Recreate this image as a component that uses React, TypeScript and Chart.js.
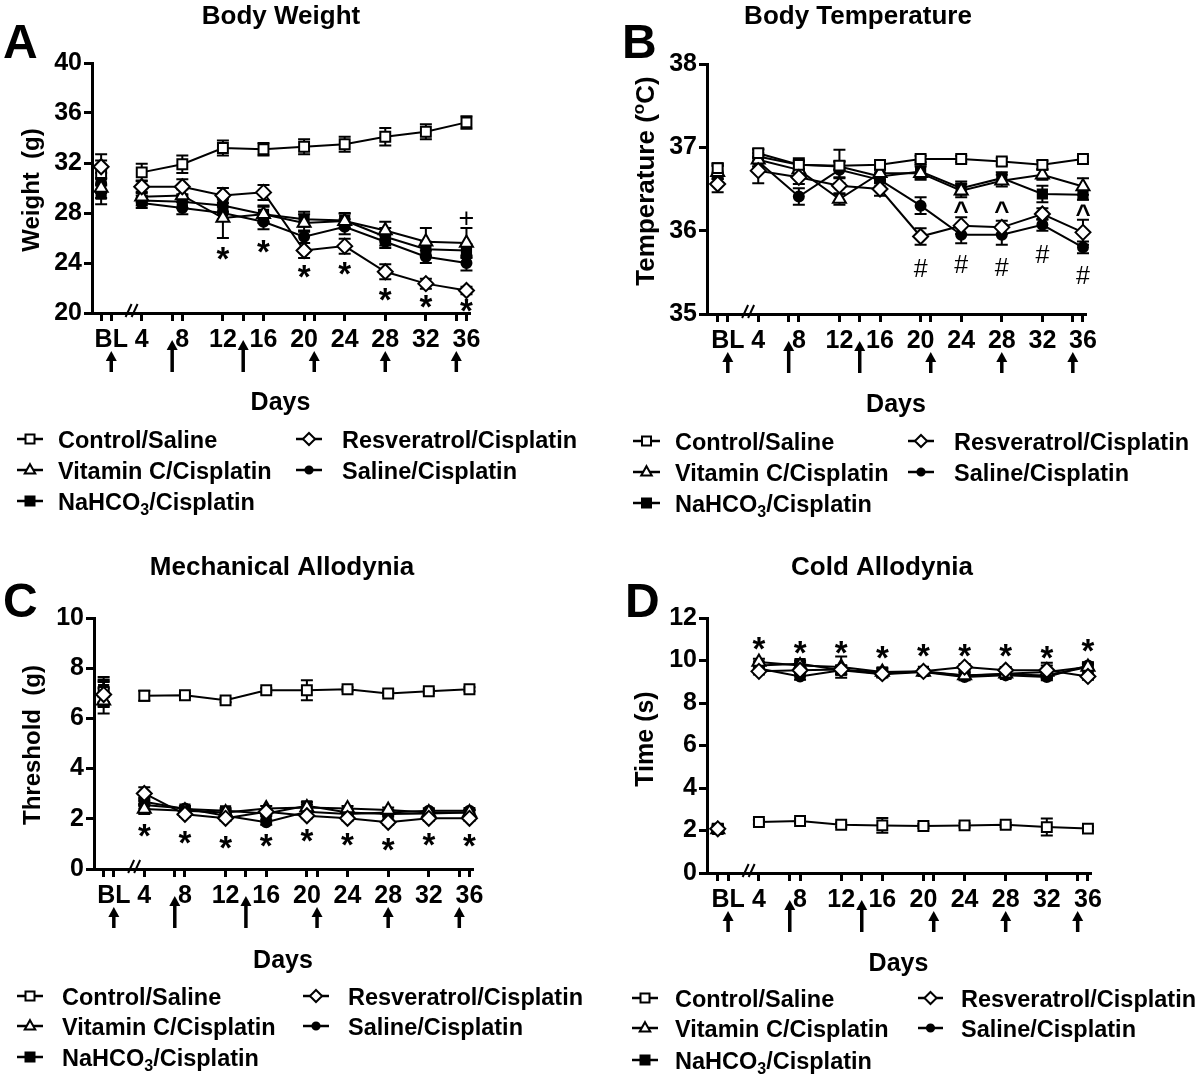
import React, { useEffect, useRef } from 'react';
import { Chart, registerables } from 'chart.js';

Chart.register(...registerables);

const FONT = '"Liberation Sans", Arial, Helvetica, sans-serif';

// ---------- shared x axis ----------
const BL_X = 0;
const DAYS = [4, 8, 12, 16, 20, 24, 28, 32, 36];
const X_VALUES = [BL_X, ...DAYS];
const X_TICKS = [0, 1, 4, 7, 8, 12, 14, 16, 20, 21, 24, 28, 32, 35, 36];
const X_TICK_LABELS = ['', 'BL', '4', '', '8', '12', '', '16', '20', '', '24', '28', '32', '', '36'];
const ARROW_DAYS = [1, 7, 14, 21, 28, 35];
const LONG_ARROW_DAYS = [7, 14];
const BREAK_X = 3;

// ---------- A: Body weight (g) — BL, day 4 ... 36 ----------
const BW_TICKS = [20, 24, 28, 32, 36, 40];
const bwControl = [31.2, 31.25, 31.9, 33.2, 33.1, 33.3, 33.5, 34.1, 34.5, 35.25];
const bwControlErr = [1.0, 0.7, 0.7, 0.6, 0.5, 0.6, 0.6, 0.7, 0.6, 0.5];
const bwVitC = [30.0, 29.3, 29.4, 27.6, 27.9, 27.2, 27.35, 26.6, 25.7, 25.6];
const bwVitCErr = [0.8, 0.4, 0.5, 1.6, 0.7, 0.7, 0.6, 0.7, 1.1, 1.2];
const bwNaHCO3 = [29.5, 29.0, 28.9, 28.6, 27.9, 27.5, 27.4, 26.1, 25.1, 25.0];
const bwNaHCO3Err = [0.8, 0.4, 0.5, 0.5, 0.6, 0.6, 0.6, 0.7, 0.6, 0.5];
const bwResv = [31.7, 30.1, 30.1, 29.4, 29.65, 25.0, 25.35, 23.3, 22.35, 21.8];
const bwResvErr = [1.0, 0.5, 0.6, 0.6, 0.6, 0.6, 0.6, 0.6, 0.4, 0.3];
const bwSaline = [30.4, 28.8, 28.4, 28.0, 27.3, 26.1, 26.9, 25.7, 24.5, 24.0];
const bwSalineErr = [0.8, 0.4, 0.5, 0.5, 0.6, 0.5, 0.6, 0.5, 0.5, 0.6];
const BW_STAR_DAYS = [12, 16, 20, 24, 28, 32, 36];
const BW_STAR_Y = [24.8, 25.3, 23.3, 23.55, 21.5, 20.9, 20.6];
const BW_PLUS_DAYS = [36];
const BW_PLUS_Y = [27.6];

// ---------- B: Body temperature (°C) ----------
const BT_TICKS = [35, 36, 37, 38];
const btControl = [36.75, 36.93, 36.79, 36.78, 36.79, 36.86, 36.86, 36.83, 36.79, 36.86];
const btControlErr = [0.06, 0.05, 0.05, 0.05, 0.05, 0.04, 0.04, 0.04, 0.05, 0.04];
const btVitC = [36.7, 36.85, 36.73, 36.38, 36.69, 36.69, 36.48, 36.6, 36.67, 36.53];
const btVitCErr = [0.08, 0.08, 0.1, 0.07, 0.08, 0.08, 0.08, 0.07, 0.06, 0.1];
const btNaHCO3 = [36.72, 36.89, 36.79, 36.77, 36.65, 36.71, 36.51, 36.63, 36.44, 36.43];
const btNaHCO3Err = [0.08, 0.08, 0.08, 0.2, 0.08, 0.08, 0.08, 0.07, 0.1, 0.06];
const btResv = [36.56, 36.72, 36.64, 36.54, 36.5, 35.93, 36.06, 36.04, 36.2, 35.98];
const btResvErr = [0.1, 0.15, 0.08, 0.1, 0.08, 0.1, 0.1, 0.08, 0.07, 0.15];
const btSaline = [36.7, 36.83, 36.41, 36.73, 36.61, 36.3, 35.95, 35.95, 36.07, 35.8];
const btSalineErr = [0.08, 0.06, 0.1, 0.1, 0.08, 0.1, 0.1, 0.12, 0.07, 0.07];
const BT_HASH_DAYS = [20, 24, 28, 32, 36];
const BT_HASH_Y = [35.55, 35.6, 35.57, 35.72, 35.47];
const BT_CARET_DAYS = [24, 28, 36];
const BT_CARET_Y = [36.29, 36.29, 36.25];

// ---------- C: Mechanical allodynia threshold (g) ----------
const MA_TICKS = [0, 2, 4, 6, 8, 10];
const maControl = [7.05, 6.9, 6.92, 6.72, 7.12, 7.12, 7.16, 6.99, 7.08, 7.16];
const maControlErr = [0.5, 0.2, 0.08, 0.08, 0.08, 0.4, 0.08, 0.08, 0.08, 0.08];
const maVitC = [6.7, 2.39, 2.32, 2.25, 2.41, 2.45, 2.41, 2.35, 2.25, 2.25];
const maVitCErr = [0.5, 0.2, 0.1, 0.1, 0.1, 0.12, 0.1, 0.1, 0.1, 0.1];
const maNaHCO3 = [7.15, 2.68, 2.39, 2.32, 2.21, 2.52, 2.25, 2.19, 2.21, 2.25];
const maNaHCO3Err = [0.5, 0.15, 0.1, 0.1, 0.1, 0.15, 0.1, 0.1, 0.1, 0.1];
const maResv = [6.95, 3.01, 2.18, 2.02, 2.28, 2.12, 2.02, 1.86, 2.02, 2.02];
const maResvErr = [0.5, 0.25, 0.1, 0.1, 0.1, 0.1, 0.1, 0.1, 0.1, 0.1];
const maSaline = [7.0, 2.55, 2.41, 2.12, 1.86, 2.28, 2.19, 2.25, 2.32, 2.32];
const maSalineErr = [0.5, 0.15, 0.1, 0.1, 0.1, 0.1, 0.1, 0.1, 0.1, 0.1];
const MA_STAR_DAYS = [4, 8, 12, 16, 20, 24, 28, 32, 36];
const MA_STAR_Y = [1.53, 1.26, 1.06, 1.13, 1.35, 1.19, 0.99, 1.19, 1.13];

// ---------- D: Cold allodynia time (s) ----------
const CA_TICKS = [0, 2, 4, 6, 8, 10, 12];
const caControl = [2.09, 2.4, 2.45, 2.27, 2.24, 2.21, 2.24, 2.27, 2.16, 2.09];
const caControlErr = [0.2, 0.1, 0.1, 0.1, 0.35, 0.1, 0.1, 0.1, 0.4, 0.1];
const caVitC = [2.05, 9.93, 9.77, 9.69, 9.46, 9.46, 9.3, 9.38, 9.46, 9.69];
const caVitCErr = [0.15, 0.15, 0.15, 0.5, 0.2, 0.1, 0.15, 0.15, 0.3, 0.15];
const caNaHCO3 = [2.05, 9.77, 9.85, 9.54, 9.46, 9.49, 9.3, 9.35, 9.3, 9.69];
const caNaHCO3Err = [0.15, 0.15, 0.15, 0.2, 0.15, 0.1, 0.15, 0.15, 0.15, 0.15];
const caResv = [2.08, 9.49, 9.54, 9.58, 9.38, 9.49, 9.69, 9.54, 9.54, 9.25];
const caResvErr = [0.15, 0.15, 0.15, 0.2, 0.15, 0.1, 0.15, 0.15, 0.35, 0.15];
const caSaline = [2.1, 9.62, 9.25, 9.54, 9.35, 9.46, 9.22, 9.3, 9.22, 9.77];
const caSalineErr = [0.15, 0.15, 0.15, 0.2, 0.15, 0.1, 0.15, 0.15, 0.15, 0.15];
const CA_STAR_DAYS = [4, 8, 12, 16, 20, 24, 28, 32, 36];
const CA_STAR_Y = [10.79, 10.6, 10.6, 10.37, 10.48, 10.48, 10.48, 10.4, 10.71];

// ---------- styling ----------
type Seg = { t: string; sub?: boolean; sup?: boolean };
type Key = 'control' | 'vitc' | 'nahco3' | 'resv' | 'saline';
const GROUP_LABELS: Record<Key, Seg[]> = {
  control: [{ t: 'Control/Saline' }],
  vitc: [{ t: 'Vitamin C/Cisplatin' }],
  nahco3: [{ t: 'NaHCO' }, { t: '3', sub: true }, { t: '/Cisplatin' }],
  resv: [{ t: 'Resveratrol/Cisplatin' }],
  saline: [{ t: 'Saline/Cisplatin' }],
};
const MARK: Record<Key, { style: string; fill: string; r: number }> = {
  control: { style: 'rect', fill: '#ffffff', r: 7 },
  vitc: { style: 'triangle', fill: '#ffffff', r: 7.5 },
  nahco3: { style: 'rect', fill: '#000000', r: 6.5 },
  resv: { style: 'rectRot', fill: '#ffffff', r: 7.5 },
  saline: { style: 'circle', fill: '#000000', r: 5 },
};
const DRAW_ORDER: Key[] = ['resv', 'control', 'vitc', 'nahco3', 'saline'];
const LEGEND_ROWS: Key[][] = [['control', 'resv'], ['vitc', 'saline'], ['nahco3']];

type Annot = { text: string; font: string; days: number[]; ys: number[] };
type PanelCfg = {
  left: number; top: number; letter: string; letterX: number; letterY: number;
  title: string; titleX: number; titleY: number;
  yTitle: Seg[]; yTitleX: number; yTitleY: number; yTitleSize: number;
  area: { l: number; t: number; r: number; b: number };
  xMin: number; xMax: number; yMin: number; yMax: number; yTicks: number[];
  series: Record<Key, { v: number[]; e: number[] }>;
  annots: Annot[];
  daysY: number;
  legendRows: number[]; legendCols: { s0: number; s1: number; tx: number }[];
};

const font = (size: number, weight = 'bold') => `${weight} ${size}px ${FONT}`;

function drawRich(ctx: CanvasRenderingContext2D, segs: Seg[], x: number, y: number, size: number, align: 'left' | 'center') {
  const small = Math.round(size * 0.66);
  const widths = segs.map((s) => {
    ctx.font = font(s.sub || s.sup ? small : size);
    return ctx.measureText(s.t).width;
  });
  const total = widths.reduce((a, b) => a + b, 0);
  let cx = align === 'center' ? x - total / 2 : x;
  ctx.textAlign = 'left';
  ctx.textBaseline = 'alphabetic';
  segs.forEach((s, i) => {
    ctx.font = font(s.sub || s.sup ? small : size);
    const dy = s.sub ? size * 0.25 : s.sup ? -size * 0.38 : 0;
    ctx.fillText(s.t, cx, y + dy);
    cx += widths[i];
  });
}

function drawCenteredGlyph(ctx: CanvasRenderingContext2D, txt: string, x: number, y: number, f: string) {
  ctx.font = f;
  const m = ctx.measureText(txt);
  ctx.textAlign = 'center';
  ctx.textBaseline = 'alphabetic';
  ctx.fillText(txt, x, y + (m.actualBoundingBoxAscent - m.actualBoundingBoxDescent) / 2);
}

function drawMarker(ctx: CanvasRenderingContext2D, key: Key, x: number, y: number, s: number) {
  const m = MARK[key];
  ctx.beginPath();
  if (m.style === 'rect') {
    ctx.rect(x - s, y - s, 2 * s, 2 * s);
  } else if (m.style === 'rectRot') {
    const d = s * 1.35;
    ctx.moveTo(x, y - d); ctx.lineTo(x + d, y); ctx.lineTo(x, y + d); ctx.lineTo(x - d, y); ctx.closePath();
  } else if (m.style === 'triangle') {
    const d = s * 1.3;
    ctx.moveTo(x, y - d); ctx.lineTo(x + d * 0.9, y + d * 0.6); ctx.lineTo(x - d * 0.9, y + d * 0.6); ctx.closePath();
  } else {
    ctx.arc(x, y, s * 0.8, 0, Math.PI * 2);
  }
  ctx.fillStyle = m.fill;
  ctx.fill();
  ctx.lineWidth = 2;
  ctx.strokeStyle = '#000';
  ctx.stroke();
}

function makePlugin(p: PanelCfg) {
  return {
    id: 'decor' + p.letter,
    beforeDatasetsDraw(chart: any) {
      const ctx: CanvasRenderingContext2D = chart.ctx;
      const xs = chart.scales.x;
      const ys = chart.scales.y;
      ctx.save();
      ctx.strokeStyle = '#000';
      ctx.lineWidth = 2;
      DRAW_ORDER.forEach((k) => {
        const s = p.series[k];
        X_VALUES.forEach((xv, i) => {
          const px = xs.getPixelForValue(xv);
          const t = ys.getPixelForValue(s.v[i] + s.e[i]);
          const b = ys.getPixelForValue(s.v[i] - s.e[i]);
          ctx.beginPath();
          ctx.moveTo(px, t); ctx.lineTo(px, b);
          ctx.moveTo(px - 6, t); ctx.lineTo(px + 6, t);
          ctx.moveTo(px - 6, b); ctx.lineTo(px + 6, b);
          ctx.stroke();
        });
      });
      ctx.restore();
    },
    afterDraw(chart: any) {
      const ctx: CanvasRenderingContext2D = chart.ctx;
      const xs = chart.scales.x;
      const ys = chart.scales.y;
      const ca = chart.chartArea;
      const cx = (ca.left + ca.right) / 2;
      ctx.save();
      ctx.fillStyle = '#000';
      ctx.strokeStyle = '#000';
      // panel letter
      ctx.font = font(48);
      ctx.textAlign = 'left';
      ctx.textBaseline = 'alphabetic';
      ctx.fillText(p.letter, p.letterX, p.letterY);
      // title
      ctx.font = font(26);
      ctx.textAlign = 'center';
      ctx.fillText(p.title, p.titleX, p.titleY);
      // y title
      ctx.save();
      ctx.translate(p.yTitleX, p.yTitleY);
      ctx.rotate(-Math.PI / 2);
      drawRich(ctx, p.yTitle, 0, p.yTitleSize * 0.36, p.yTitleSize, 'center');
      ctx.restore();
      // x title
      ctx.font = font(25);
      ctx.textAlign = 'center';
      ctx.fillText('Days', cx, p.daysY);
      // axis break
      const bx = xs.getPixelForValue(BREAK_X);
      const ay = ca.bottom;
      ctx.lineWidth = 2;
      [-3, 3].forEach((d) => {
        ctx.beginPath();
        ctx.moveTo(bx + d - 3, ay + 4);
        ctx.lineTo(bx + d + 3, ay - 9);
        ctx.stroke();
      });
      // arrows (treatment days)
      ARROW_DAYS.forEach((d) => {
        const px = xs.getPixelForValue(d);
        const top = ay + (LONG_ARROW_DAYS.includes(d) ? 27 : 38);
        const bot = ay + 59;
        ctx.lineWidth = 3.5;
        ctx.beginPath();
        ctx.moveTo(px, top + 8);
        ctx.lineTo(px, bot);
        ctx.stroke();
        ctx.beginPath();
        ctx.moveTo(px, top);
        ctx.lineTo(px + 5.5, top + 10);
        ctx.lineTo(px - 5.5, top + 10);
        ctx.closePath();
        ctx.fill();
      });
      // significance marks
      p.annots.forEach((a) => {
        a.days.forEach((d, i) => {
          drawCenteredGlyph(ctx, a.text, xs.getPixelForValue(d), ys.getPixelForValue(a.ys[i]), a.font);
        });
      });
      // legend
      LEGEND_ROWS.forEach((row, ri) => {
        row.forEach((k, ci) => {
          const col = p.legendCols[ci];
          const y = p.legendRows[ri];
          ctx.lineWidth = 2.5;
          ctx.beginPath();
          ctx.moveTo(col.s0, y);
          ctx.lineTo(col.s1, y);
          ctx.stroke();
          drawMarker(ctx, k, (col.s0 + col.s1) / 2, y, 4.5);
          ctx.fillStyle = '#000';
          drawRich(ctx, GROUP_LABELS[k], col.tx, y + 8.5, 23.5, 'left');
        });
      });
      ctx.restore();
    },
  };
}

function buildConfig(p: PanelCfg): any {
  const YW = 62;
  const XH = 40;
  const datasets = DRAW_ORDER.map((k) => ({
    label: k,
    data: X_VALUES.map((x, i) => ({ x, y: p.series[k].v[i] })),
    borderColor: '#000',
    borderWidth: 2,
    pointStyle: MARK[k].style,
    pointRadius: MARK[k].r,
    pointBackgroundColor: MARK[k].fill,
    pointBorderColor: '#000',
    pointBorderWidth: 2,
    tension: 0,
    fill: false,
    clip: false,
    segment: {
      borderColor: (c: any) => (c.p0DataIndex === 0 ? 'rgba(0,0,0,0)' : '#000'),
    },
  }));
  const tickFont = { family: FONT, size: 25, weight: 'bold' as const };
  const gridCfg = { display: true, drawOnChartArea: false, drawTicks: true, tickLength: 8, color: '#000', lineWidth: 3 };
  const borderCfg = { display: true, color: '#000', width: 3 };
  return {
    type: 'line',
    data: { datasets },
    options: {
      responsive: false,
      animation: false,
      devicePixelRatio: 1,
      events: [],
      layout: {
        padding: {
          left: p.area.l - YW,
          top: p.area.t,
          right: 600 - p.area.r,
          bottom: 539 - p.area.b - XH,
        },
      },
      plugins: { legend: { display: false }, tooltip: { enabled: false }, title: { display: false } },
      scales: {
        x: {
          type: 'linear',
          min: p.xMin,
          max: p.xMax,
          afterBuildTicks: (s: any) => { s.ticks = X_TICKS.map((v) => ({ value: v })); },
          afterFit: (s: any) => { s.height = XH; },
          ticks: {
            autoSkip: false, maxRotation: 0, minRotation: 0, padding: 4, color: '#000', font: tickFont,
            callback: (v: any) => { const i = X_TICKS.indexOf(Number(v)); return i >= 0 ? X_TICK_LABELS[i] : ''; },
          },
          grid: gridCfg,
          border: borderCfg,
        },
        y: {
          type: 'linear',
          min: p.yMin,
          max: p.yMax,
          afterBuildTicks: (s: any) => { s.ticks = p.yTicks.map((v) => ({ value: v })); },
          afterFit: (s: any) => { s.width = YW; },
          ticks: { padding: 2, color: '#000', font: tickFont, callback: (v: any) => String(v) },
          grid: gridCfg,
          border: borderCfg,
        },
      },
    },
    plugins: [makePlugin(p)],
  };
}

const PANELS: PanelCfg[] = [
  {
    left: 0, top: 0, letter: 'A', letterX: 3, letterY: 58, title: 'Body Weight', titleX: 281, titleY: 24,
    yTitle: [{ t: 'Weight  (g)' }], yTitleX: 30, yTitleY: 190, yTitleSize: 24,
    area: { l: 92, t: 63, r: 469, b: 313 }, xMin: -0.9, xMax: 36.25, yMin: 20, yMax: 40, yTicks: BW_TICKS,
    series: {
      control: { v: bwControl, e: bwControlErr }, vitc: { v: bwVitC, e: bwVitCErr },
      nahco3: { v: bwNaHCO3, e: bwNaHCO3Err }, resv: { v: bwResv, e: bwResvErr },
      saline: { v: bwSaline, e: bwSalineErr },
    },
    annots: [
      { text: '*', font: font(33), days: BW_STAR_DAYS, ys: BW_STAR_Y },
      { text: '+', font: font(27, 'normal'), days: BW_PLUS_DAYS, ys: BW_PLUS_Y },
    ],
    daysY: 410,
    legendRows: [439, 470, 501],
    legendCols: [{ s0: 17, s1: 43, tx: 58 }, { s0: 296, s1: 322, tx: 342 }],
  },
  {
    left: 600, top: 0, letter: 'B', letterX: 22, letterY: 58, title: 'Body Temperature', titleX: 258, titleY: 24,
    yTitle: [{ t: 'Temperature (' }, { t: 'o', sup: true }, { t: 'C)' }], yTitleX: 45, yTitleY: 181, yTitleSize: 26,
    area: { l: 107, t: 64, r: 485, b: 314 }, xMin: -1.05, xMax: 36.2, yMin: 35, yMax: 38, yTicks: BT_TICKS,
    series: {
      control: { v: btControl, e: btControlErr }, vitc: { v: btVitC, e: btVitCErr },
      nahco3: { v: btNaHCO3, e: btNaHCO3Err }, resv: { v: btResv, e: btResvErr },
      saline: { v: btSaline, e: btSalineErr },
    },
    annots: [
      { text: '#', font: font(25, 'normal'), days: BT_HASH_DAYS, ys: BT_HASH_Y },
      { text: '^', font: font(26), days: BT_CARET_DAYS, ys: BT_CARET_Y },
    ],
    daysY: 412,
    legendRows: [441, 472, 503],
    legendCols: [{ s0: 33, s1: 60, tx: 75 }, { s0: 308, s1: 334, tx: 354 }],
  },
  {
    left: 0, top: 539, letter: 'C', letterX: 3, letterY: 78, title: 'Mechanical Allodynia', titleX: 282, titleY: 36,
    yTitle: [{ t: 'Threshold  (g)' }], yTitleX: 31, yTitleY: 206, yTitleSize: 24,
    area: { l: 94, t: 79, r: 472, b: 330 }, xMin: -0.95, xMax: 36.25, yMin: 0, yMax: 10, yTicks: MA_TICKS,
    series: {
      control: { v: maControl, e: maControlErr }, vitc: { v: maVitC, e: maVitCErr },
      nahco3: { v: maNaHCO3, e: maNaHCO3Err }, resv: { v: maResv, e: maResvErr },
      saline: { v: maSaline, e: maSalineErr },
    },
    annots: [{ text: '*', font: font(33), days: MA_STAR_DAYS, ys: MA_STAR_Y }],
    daysY: 429,
    legendRows: [457, 487, 518],
    legendCols: [{ s0: 17, s1: 43, tx: 62 }, { s0: 303, s1: 329, tx: 348 }],
  },
  {
    left: 600, top: 539, letter: 'D', letterX: 25, letterY: 78, title: 'Cold Allodynia', titleX: 282, titleY: 36,
    yTitle: [{ t: 'Time (s)' }], yTitleX: 44, yTitleY: 200, yTitleSize: 25,
    area: { l: 107, t: 79, r: 490, b: 334 }, xMin: -1.05, xMax: 36.2, yMin: 0, yMax: 12, yTicks: CA_TICKS,
    series: {
      control: { v: caControl, e: caControlErr }, vitc: { v: caVitC, e: caVitCErr },
      nahco3: { v: caNaHCO3, e: caNaHCO3Err }, resv: { v: caResv, e: caResvErr },
      saline: { v: caSaline, e: caSalineErr },
    },
    annots: [{ text: '*', font: font(33), days: CA_STAR_DAYS, ys: CA_STAR_Y }],
    daysY: 432,
    legendRows: [459, 489, 521],
    legendCols: [{ s0: 32, s1: 58, tx: 75 }, { s0: 318, s1: 343, tx: 361 }],
  },
];

function Panel({ cfg }: { cfg: PanelCfg }) {
  const ref = useRef<HTMLCanvasElement>(null);
  useEffect(() => {
    const chart = new Chart(ref.current as HTMLCanvasElement, buildConfig(cfg));
    return () => chart.destroy();
  }, [cfg]);
  return (
    <canvas
      ref={ref}
      width={600}
      height={539}
      style={{ position: 'absolute', left: cfg.left, top: cfg.top, width: 600, height: 539 }}
    />
  );
}

export default function App() {
  return (
    <div style={{ position: 'absolute', left: 0, top: 0, width: 1200, height: 1078, background: '#fff' }}>
      {PANELS.map((p) => (
        <Panel key={p.letter} cfg={p} />
      ))}
    </div>
  );
}
